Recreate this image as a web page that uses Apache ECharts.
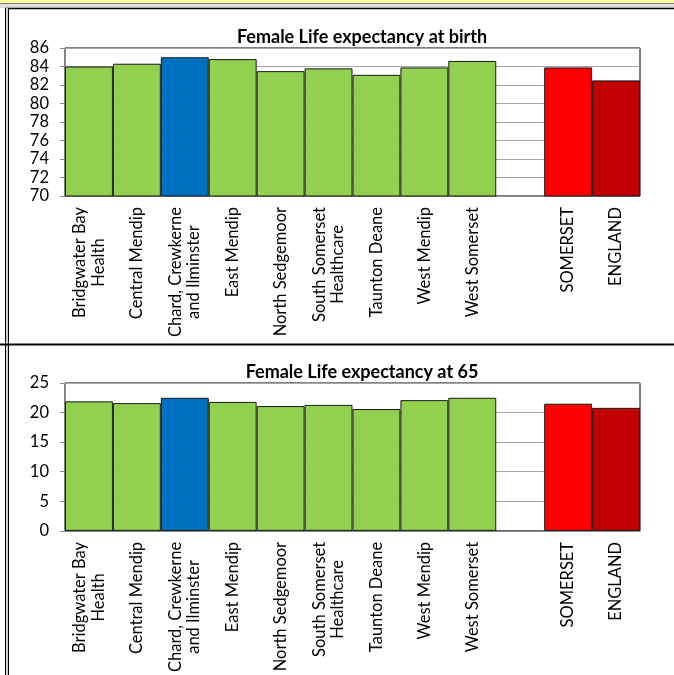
<!DOCTYPE html>
<html><head><meta charset="utf-8">
<script src="https://cdn.jsdelivr.net/npm/echarts@6/dist/echarts.min.js"></script>
<style>html,body{margin:0;padding:0;background:#fff;}#c{width:674px;height:675px;}</style>
</head><body><div id="c"></div>
<script>
const categories = ['Bridgwater Bay\nHealth','Central Mendip','Chard, Crewkerne\nand Ilminster','East Mendip','North Sedgemoor','South Somerset\nHealthcare','Taunton Deane','West Mendip','West Somerset','','SOMERSET','ENGLAND'];
const birthValues = [84.0, 84.3, 85.0, 84.8, 83.5, 83.8, 83.1, 83.9, 84.6, null, 83.9, 82.5];
const age65Values = [21.9, 21.6, 22.5, 21.8, 21.1, 21.3, 20.6, 22.1, 22.5, null, 21.5, 20.8];
const barColors = ['#92D050','#92D050','#0070C0','#92D050','#92D050','#92D050','#92D050','#92D050','#92D050','#ffffff','#FF0000','#C00000'];
const titles = ['Female Life expectancy at birth','Female Life expectancy at 65'];
const yTicks1 = {min:70, max:86, interval:2};
const yTicks2 = {min:0, max:25, interval:5};

const FONT = 'Lato';
const chart = echarts.init(document.getElementById('c'));
function xAxis(gi){
  return {gridIndex:gi, type:'category', data:categories,
    axisLine:{lineStyle:{color:'#8c8c8c'}},
    axisTick:{length:5, lineStyle:{color:'#8c8c8c'}},
    axisLabel:{rotate:90, interval:0, margin:11, color:'#000',
      formatter:v=>v.split('\n').map(s=>'{c|'+s+'}').join('\n'),
      rich:{c:{align:'center', fontFamily:FONT, fontSize:16.5, lineHeight:18.5, color:'#000'}}}};
}
function yAxis(gi, t){
  return {gridIndex:gi, type:'value', min:t.min, max:t.max, interval:t.interval,
    axisLine:{show:true, lineStyle:{color:'#8c8c8c'}},
    axisTick:{show:true, length:5, lineStyle:{color:'#8c8c8c'}},
    axisLabel:{margin:16, color:'#000', fontFamily:FONT, fontSize:16.5},
    splitLine:{lineStyle:{color:'#a6a6a6'}}};
}
function barSeries(gi, vals){
  return {type:'bar', xAxisIndex:gi, yAxisIndex:gi, barCategoryGap:'0%',
    data: vals.map((v,i)=>({value:v, itemStyle:{color:barColors[i]}})),
    itemStyle:{borderColor:'#1a1a1a', borderWidth:1}, silent:true, animation:false};
}
const option = {
  animation:false,
  title:[
    {text:titles[0], left:357, top:23, textAlign:'center', textStyle:{fontFamily:FONT, fontSize:18, fontWeight:'bold', color:'#000'}},
    {text:titles[1], left:357, top:358, textAlign:'center', textStyle:{fontFamily:FONT, fontSize:18, fontWeight:'bold', color:'#000'}}
  ],
  grid:[
    {left:65, right:34, top:48, height:148, show:true, borderColor:'#000', borderWidth:1, backgroundColor:'transparent'},
    {left:65, right:34, top:383, height:149, show:true, borderColor:'#000', borderWidth:1, backgroundColor:'transparent'}
  ],
  xAxis:[xAxis(0), xAxis(1)],
  yAxis:[yAxis(0,yTicks1), yAxis(1,yTicks2)],
  series:[barSeries(0,birthValues), barSeries(1,age65Values)],
  graphic:[
    {type:'rect', shape:{x:0,y:0,width:674,height:3}, style:{fill:'#FFFF99'}, silent:true},
    {type:'line', shape:{x1:0,y1:3.5,x2:674,y2:3.5}, style:{stroke:'#7f7f7f',lineWidth:1}, silent:true},
    {type:'rect', shape:{x:0,y:4,width:674,height:4}, style:{fill:'#e0e0e0'}, silent:true},
    {type:'line', shape:{x1:5,y1:8.5,x2:674,y2:8.5}, style:{stroke:'#000',lineWidth:1.5}, silent:true},
    {type:'line', shape:{x1:5.5,y1:8,x2:5.5,y2:675}, style:{stroke:'#000',lineWidth:1}, silent:true},
    {type:'rect', shape:{x:6,y:8,width:2,height:667}, style:{fill:'#d0d0d0'}, silent:true},
    {type:'line', shape:{x1:8.5,y1:8,x2:8.5,y2:675}, style:{stroke:'#000',lineWidth:1}, silent:true},
    {type:'line', shape:{x1:0,y1:344.5,x2:674,y2:344.5}, style:{stroke:'#000',lineWidth:2}, silent:true}
  ]
};
chart.setOption(option);
</script></body></html>
